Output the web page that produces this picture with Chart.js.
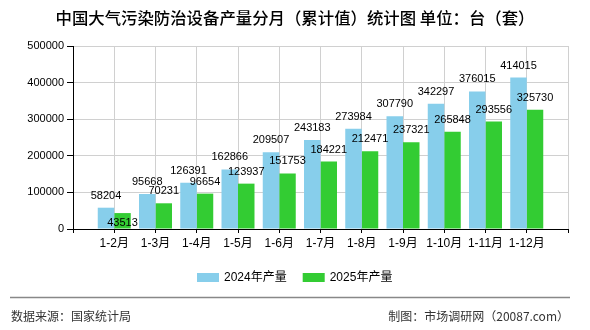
<!DOCTYPE html>
<html>
<head>
<meta charset="utf-8">
<script src="https://cdn.jsdelivr.net/npm/chart.js@4.4.1/dist/chart.umd.min.js"></script>
<style>
  html, body { margin: 0; padding: 0; background: #fff; }
  #wrap { width: 590px; height: 330px; position: relative; }
</style>
</head>
<body>
<div id="wrap"><canvas id="chart" width="590" height="330"></canvas></div>
<script>
// 数据（累计值，单位：台/套）
const months = ['1-2月', '1-3月', '1-4月', '1-5月', '1-6月', '1-7月', '1-8月', '1-9月', '1-10月', '1-11月', '1-12月'];
const output2024 = [58204, 95668, 126391, 162866, 209507, 243183, 273984, 307790, 342297, 376015, 414015];
const output2025 = [43513, 70231, 96654, 123937, 151753, 184221, 212471, 237321, 265848, 293556, 325730];
const yTicks = [0, 100000, 200000, 300000, 400000, 500000];

const seriesNames = ['2024年产量', '2025年产量'];
const seriesColors = ['#87CEEB', '#33CC33'];

const titleText = '中国大气污染防治设备产量分月（累计值）统计图 单位：台（套）';
const sourceText = '数据来源：国家统计局';
const makerText = '制图：市场调研网（20087.com）';

// 首尾留空位，使类目落在网格线上
const labels = [''].concat(months, ['']);
const pad = arr => [null].concat(arr, [null]);

const numFont = '11px "Liberation Sans", "Noto Sans CJK SC", sans-serif';
const cjkFont = '"Noto Sans CJK SC", sans-serif';

// 数值标签
const valueLabels = {
  id: 'valueLabels',
  afterDatasetsDraw(chart) {
    const ctx = chart.ctx;
    ctx.save();
    ctx.font = numFont;
    ctx.fillStyle = '#000';
    ctx.textAlign = 'center';
    ctx.textBaseline = 'middle';
    const m0 = chart.getDatasetMeta(0).data;
    const m1 = chart.getDatasetMeta(1).data;
    chart.data.datasets[0].data.forEach((v, i) => {
      if (v == null) return;
      const a = m0[i], b = m1[i];
      const ya = a.y - 12;
      ctx.fillText(String(v), a.x, ya);
      const v2 = chart.data.datasets[1].data[i];
      let yb = b.y - 12;
      if (Math.abs(yb - ya) < 8) yb = b.y + 10; // 避免与上方标签重叠
      ctx.fillText(String(v2), b.x, yb);
    });
    ctx.restore();
  }
};

// 标题、图例、底部说明
const decorations = {
  id: 'decorations',
  afterDraw(chart) {
    const ctx = chart.ctx;
    const w = chart.width;
    ctx.save();
    ctx.fillStyle = '#000';
    ctx.textBaseline = 'middle';
    ctx.textAlign = 'center';
    ctx.font = '500 16.4px ' + cjkFont;
    ctx.fillText(titleText, w / 2, 18);

    // 图例
    ctx.font = '12px "Liberation Sans", "Noto Sans CJK SC", sans-serif';
    ctx.textAlign = 'left';
    let x = 197;
    seriesNames.forEach((name, i) => {
      ctx.fillStyle = seriesColors[i];
      ctx.fillRect(x, 273, 22, 9);
      ctx.fillStyle = '#000';
      ctx.fillText(name, x + 27, 278);
      x += 27 + ctx.measureText(name).width + 16;
    });

    // 分隔线
    ctx.strokeStyle = '#888';
    ctx.lineWidth = 1.5;
    ctx.beginPath();
    ctx.moveTo(10, 297.5);
    ctx.lineTo(570, 297.5);
    ctx.stroke();

    ctx.fillStyle = '#333';
    ctx.font = '12px ' + cjkFont;
    ctx.fillText(sourceText, 11, 316);
    ctx.textAlign = 'right';
    ctx.fillText(makerText, 569, 316);
    ctx.restore();
  }
};

new Chart(document.getElementById('chart'), {
  type: 'bar',
  data: {
    labels: labels,
    datasets: [
      { label: seriesNames[0], data: pad(output2024), backgroundColor: seriesColors[0] },
      { label: seriesNames[1], data: pad(output2025), backgroundColor: seriesColors[1] }
    ]
  },
  options: {
    responsive: false,
    animation: false,
    events: [],
    layout: { padding: { top: 46, right: 22, left: 0, bottom: 0 } },
    datasets: { bar: { categoryPercentage: 0.8, barPercentage: 1.0 } },
    plugins: {
      legend: { display: false },
      title: { display: false },
      tooltip: { enabled: false }
    },
    scales: {
      x: {
        offset: false,
        grid: { offset: false, color: '#d0d0d0', tickColor: '#000', tickLength: 4 },
        border: { color: '#000', width: 1 },
        ticks: {
          autoSkip: false, maxRotation: 0, padding: 3, color: '#000',
          font: { family: '"Liberation Sans", "Noto Sans CJK SC", sans-serif', size: 12 }
        },
        afterFit(scale) { scale.height = 101; }
      },
      y: {
        min: 0,
        max: 500000,
        afterBuildTicks(scale) { scale.ticks = yTicks.map(v => ({ value: v })); },
        grid: { color: '#d0d0d0', tickColor: '#000', tickLength: 6 },
        border: { color: '#000', width: 1 },
        ticks: {
          padding: 3, color: '#000',
          font: { family: '"Liberation Sans", sans-serif', size: 11 },
          callback: v => String(v)
        },
        afterFit(scale) { scale.width = 73; }
      }
    }
  },
  plugins: [valueLabels, decorations]
});
</script>
</body>
</html>
